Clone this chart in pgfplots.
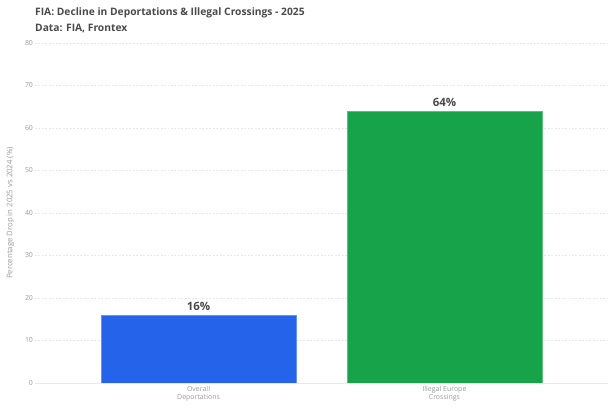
\documentclass[border=0pt]{standalone}
\usepackage{pgfplots}
\pgfplotsset{compat=1.18}
\usepackage{fontspec}
\setmainfont{Open Sans}
\definecolor{barblue}{HTML}{2563EB}
\definecolor{bargreen}{HTML}{16A34A}
\definecolor{tickgray}{HTML}{9A9A9A}
\definecolor{gridgray}{HTML}{E8E8E8}
\definecolor{titlegray}{HTML}{4A4A4A}
\begin{document}
\begin{tikzpicture}
\useasboundingbox (-35bp,-27bp) rectangle (580bp,383bp);
\begin{axis}[
  at={(0,0)}, anchor=south west,
  scale only axis, width=573bp, height=340bp,
  xmin=-0.665, xmax=1.665, ymin=0, ymax=80,
  ytick={0,10,...,80},
  xtick={0,1},
  xticklabels={Overall\\Deportations, Illegal Europe\\Crossings},
  /pgf/number format/assume math mode=true,
  xticklabel style={align=center, font=\fontsize{7}{7.8}\selectfont, text=tickgray},
  yticklabel style={font=\fontsize{7}{8}\selectfont, text=tickgray},
  yticklabel shift=-1.5bp,
  major tick length=0pt,
  separate axis lines,
  axis x line*=bottom, axis y line*=left,
  x axis line style={draw=gridgray, -},
  y axis line style={draw=none},
  ymajorgrids, grid style={gridgray, line width=0.5pt, dash pattern=on 2pt off 1.5pt},
  ylabel={Percentage Drop in 2025 vs 2024 (\%)},
  ylabel style={font=\fontsize{7.8}{9}\selectfont, text=tickgray, yshift=4bp},
  ybar, bar width=195bp, bar shift=0pt,
  nodes near coords={\pgfmathprintnumber{\pgfplotspointmeta}\%},
  every node near coord/.append style={font=\fontsize{11.5}{13}\selectfont\bfseries, text=titlegray, yshift=1bp},
]
\addplot[fill=barblue, draw=barblue!70!white] coordinates {(0,16)};
\addplot[fill=bargreen, draw=bargreen!70!white] coordinates {(1,64)};
\end{axis}
\node[anchor=west, font=\fontsize{10.3}{12}\selectfont\bfseries, text=titlegray, inner sep=0pt] at (0,370bp) {FIA: Decline in Deportations \& Illegal Crossings - 2025};
\node[anchor=west, font=\fontsize{10.3}{12}\selectfont\bfseries, text=titlegray, inner sep=0pt] at (0,355bp) {Data: FIA, Frontex};
\end{tikzpicture}
\end{document}
